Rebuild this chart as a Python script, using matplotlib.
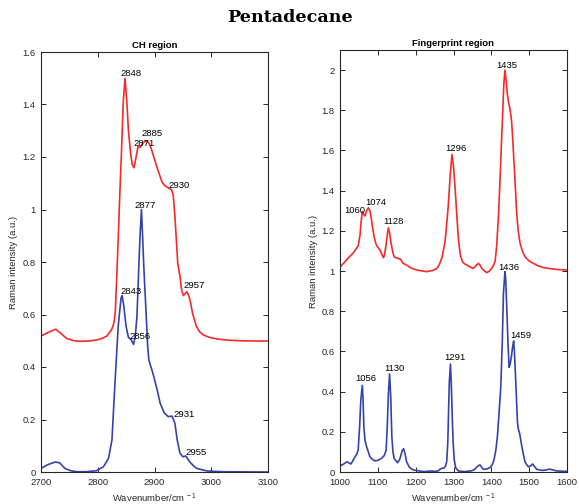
import matplotlib
matplotlib.use("Agg")
import matplotlib.pyplot as plt
from matplotlib.ticker import FuncFormatter
import numpy as np

# CH region, red spectrum (offset by 0.5)
ch_red_x = [2700, 2712, 2726, 2735, 2745, 2758, 2769, 2785, 2798, 2808, 2816, 2824, 2827, 2829,
            2831, 2833, 2836, 2839, 2842, 2845, 2848, 2851, 2854, 2858, 2861, 2864, 2868, 2871,
            2875, 2880, 2886, 2891, 2895, 2904, 2913, 2918, 2925, 2930, 2933, 2936, 2941, 2945,
            2948, 2951, 2954, 2957, 2961, 2964, 2967, 2974, 2980, 2986, 2998, 3010, 3030, 3051,
            3075, 3100]
ch_red_y = [0.518, 0.531, 0.544, 0.528, 0.509, 0.500, 0.498, 0.499, 0.503, 0.509, 0.518, 0.541,
            0.556, 0.575, 0.615, 0.720, 0.885, 1.065, 1.230, 1.410, 1.500, 1.420, 1.303, 1.210,
            1.170, 1.159, 1.205, 1.240, 1.237, 1.255, 1.262, 1.250, 1.227, 1.163, 1.106, 1.091,
            1.082, 1.075, 1.055, 0.973, 0.795, 0.744, 0.690, 0.672, 0.680, 0.687, 0.668, 0.640,
            0.605, 0.554, 0.533, 0.522, 0.512, 0.507, 0.502, 0.500, 0.499, 0.499]

# CH region, blue spectrum
ch_blue_x = [2700, 2712, 2725, 2733, 2742, 2752, 2763, 2780, 2798, 2810, 2819, 2825, 2830, 2836,
             2841, 2843, 2846, 2850, 2854, 2859, 2863, 2866, 2869, 2871, 2873, 2875, 2877, 2879,
             2881, 2883, 2886, 2888, 2890, 2898, 2904, 2910, 2917, 2924, 2931, 2936, 2940, 2945,
             2950, 2955, 2962, 2968, 2974, 2992, 3020, 3100]
ch_blue_y = [0.014, 0.028, 0.038, 0.035, 0.014, 0.005, 0.001, 0.001, 0.005, 0.020, 0.052, 0.122,
             0.325, 0.554, 0.662, 0.672, 0.630, 0.554, 0.513, 0.503, 0.486, 0.515, 0.590, 0.700,
             0.820, 0.920, 1.000, 0.900, 0.790, 0.700, 0.570, 0.480, 0.427, 0.370, 0.319, 0.262,
             0.226, 0.211, 0.213, 0.185, 0.122, 0.071, 0.058, 0.061, 0.039, 0.025, 0.014, 0.004,
             0.001, 0.000]

# Fingerprint region, red spectrum (offset by 1)
fp_red_x = [1000, 1010, 1022, 1035, 1048, 1053, 1056, 1059, 1062, 1066, 1070, 1075, 1079, 1082,
            1086, 1090, 1095, 1099, 1106, 1110, 1115, 1118, 1121, 1125, 1128, 1131, 1135, 1140,
            1143, 1149, 1154, 1160, 1167, 1176, 1188, 1203, 1229, 1245, 1256, 1262, 1270, 1278,
            1286, 1291, 1296, 1300, 1304, 1309, 1313, 1318, 1324, 1330, 1335, 1343, 1351, 1357,
            1362, 1366, 1370, 1375, 1382, 1388, 1395, 1401, 1406, 1410, 1414, 1419, 1423, 1427,
            1430, 1433, 1436, 1439, 1442, 1446, 1449, 1452, 1454, 1457, 1460, 1464, 1467, 1471,
            1476, 1482, 1489, 1500, 1511, 1525, 1537, 1555, 1573, 1600]
fp_red_y = [1.020, 1.040, 1.065, 1.090, 1.125, 1.180, 1.250, 1.295, 1.285, 1.274, 1.300, 1.315,
            1.300, 1.270, 1.220, 1.171, 1.135, 1.121, 1.104, 1.085, 1.066, 1.085, 1.121, 1.180,
            1.215, 1.190, 1.138, 1.090, 1.071, 1.065, 1.063, 1.058, 1.038, 1.030, 1.015, 1.005,
            0.997, 1.003, 1.013, 1.030, 1.070, 1.150, 1.320, 1.470, 1.580, 1.520, 1.420, 1.270,
            1.160, 1.080, 1.045, 1.035, 1.030, 1.022, 1.013, 1.021, 1.032, 1.038, 1.030, 1.013,
            1.000, 0.992, 1.000, 1.013, 1.030, 1.050, 1.121, 1.280, 1.453, 1.650, 1.785, 1.930,
            2.000, 1.950, 1.884, 1.835, 1.809, 1.770, 1.735, 1.640, 1.536, 1.400, 1.287, 1.200,
            1.138, 1.100, 1.071, 1.050, 1.038, 1.025, 1.018, 1.012, 1.008, 1.005]

# Fingerprint region, blue spectrum
fp_blue_x = [1000, 1010, 1018, 1024, 1029, 1035, 1040, 1045, 1048, 1052, 1055, 1059, 1061, 1063,
             1066, 1069, 1074, 1079, 1086, 1093, 1100, 1110, 1117, 1122, 1125, 1128, 1131, 1134,
             1137, 1140, 1143, 1152, 1157, 1160, 1164, 1168, 1172, 1176, 1183, 1190, 1200, 1220,
             1242, 1250, 1260, 1265, 1269, 1275, 1279, 1282, 1285, 1287, 1289, 1292, 1294, 1297,
             1299, 1302, 1306, 1313, 1330, 1348, 1355, 1361, 1366, 1370, 1374, 1379, 1388, 1397,
             1402, 1407, 1412, 1416, 1420, 1425, 1429, 1432, 1436, 1438, 1441, 1444, 1447, 1450,
             1453, 1456, 1459, 1461, 1464, 1467, 1469, 1471, 1475, 1480, 1485, 1489, 1494, 1498,
             1504, 1509, 1514, 1520, 1535, 1545, 1552, 1560, 1573, 1600]
fp_blue_y = [0.030, 0.040, 0.051, 0.045, 0.040, 0.060, 0.076, 0.092, 0.109, 0.230, 0.358, 0.431,
             0.360, 0.225, 0.160, 0.134, 0.105, 0.076, 0.062, 0.055, 0.058, 0.068, 0.082, 0.109,
             0.230, 0.392, 0.488, 0.380, 0.176, 0.100, 0.068, 0.046, 0.060, 0.076, 0.105, 0.116,
             0.090, 0.051, 0.025, 0.013, 0.008, 0.002, 0.005, 0.003, 0.006, 0.015, 0.018, 0.020,
             0.030, 0.051, 0.150, 0.308, 0.450, 0.537, 0.450, 0.259, 0.150, 0.060, 0.020, 0.005,
             0.002, 0.006, 0.012, 0.023, 0.032, 0.035, 0.025, 0.013, 0.015, 0.023, 0.035, 0.060,
             0.110, 0.176, 0.280, 0.424, 0.650, 0.889, 0.997, 0.960, 0.806, 0.640, 0.521, 0.540,
             0.574, 0.620, 0.652, 0.600, 0.474, 0.340, 0.250, 0.217, 0.190, 0.134, 0.085, 0.051,
             0.035, 0.026, 0.030, 0.040, 0.028, 0.013, 0.008, 0.010, 0.014, 0.012, 0.005, 0.003]

# peak labels: wavenumber, intensity, label nudge in pixels (dx, dy)
ch_peaks = [(2848, 1.500, -5, 5), (2871, 1.240, -5, 3), (2885, 1.262, -5, 7),
            (2930, 1.075, -3, 4), (2957, 0.687, -3, 6),
            (2877, 1.000, -7, 4), (2843, 0.672, -2, 4), (2856, 0.503, 0, 3),
            (2931, 0.213, 1, 2), (2955, 0.061, 0, 3)]
fp_peaks = [(1060, 1.295, -18, 1), (1074, 1.315, -3, 5), (1128, 1.215, -5, 6),
            (1296, 1.580, -7, 6), (1435, 2.000, -8, 5),
            (1436, 1.000, -7, 4), (1459, 0.652, -3, 5), (1291, 0.537, -6, 7),
            (1130, 0.488, -5, 5), (1056, 0.431, -6, 7)]

RED = '#f52a2a'
BLUE = '#3343a8'
GREY = '#262626'
FS = 6.8

plt.rcParams['font.family'] = ['Liberation Sans', 'DejaVu Sans']
plt.rcParams['mathtext.fontset'] = 'custom'
plt.rcParams['mathtext.rm'] = 'Liberation Sans'
plt.rcParams['mathtext.it'] = 'Liberation Sans'

W, H = 579, 504
fig = plt.figure(figsize=(W / 100, H / 100), dpi=100)
ax1 = fig.add_axes([41 / W, 1 - 472 / H, 227 / W, 420 / H])
ax2 = fig.add_axes([340 / W, 1 - 472 / H, 227 / W, 422 / H])


def style(ax, title, xlim, ylim, xt, yt):
	ax.set_xlim(*xlim)
	ax.set_ylim(*ylim)
	ax.set_xticks(xt)
	ax.set_yticks(yt)
	ax.yaxis.set_major_formatter(FuncFormatter(lambda v, p: '%g' % round(v, 2)))
	ax.tick_params(direction='in', top=True, right=True, length=3.5, width=0.7,
				   labelsize=FS, colors=GREY, pad=4)
	for s in ax.spines.values():
		s.set_color(GREY)
		s.set_linewidth(0.8)
	ax.set_title(title, fontsize=FS, fontweight='bold', pad=3, color='black')
	ax.set_xlabel('Wavenumber/cm$^{\\ -1}$', fontsize=FS, color=GREY, va='center')
	ax.set_ylabel('Raman intensity (a.u.)', fontsize=FS, color=GREY, va='center')
	h = ax.get_position().height * H
	ax.xaxis.set_label_coords(0.5, -26 / h)
	ax.yaxis.set_label_coords(-27 / 227, 0.5)


def label_peaks(ax, peaks):
	for x, y, dx, dy in peaks:
		ax.annotate(str(x), (x, y), xytext=(dx, dy), textcoords='offset pixels',
					ha='left', va='center', fontsize=FS, color='black')


ax1.plot(ch_red_x, ch_red_y, color=RED, lw=1.2)
ax1.plot(ch_blue_x, ch_blue_y, color=BLUE, lw=1.2)
style(ax1, 'CH region', (2700, 3100), (0, 1.6), np.arange(2700, 3101, 100), np.arange(0, 1.61, 0.2))
label_peaks(ax1, ch_peaks)

ax2.plot(fp_red_x, fp_red_y, color=RED, lw=1.2)
ax2.plot(fp_blue_x, fp_blue_y, color=BLUE, lw=1.2)
style(ax2, 'Fingerprint region', (1000, 1600), (0, 2.1), np.arange(1000, 1601, 100), np.arange(0, 2.01, 0.2))
label_peaks(ax2, fp_peaks)

fig.text(0.5, 1 - 18 / H, 'Pentadecane', ha='center', va='center', fontsize=12.6,
		 fontweight='bold', family='DejaVu Serif')

fig.savefig('out.png', dpi=100)
